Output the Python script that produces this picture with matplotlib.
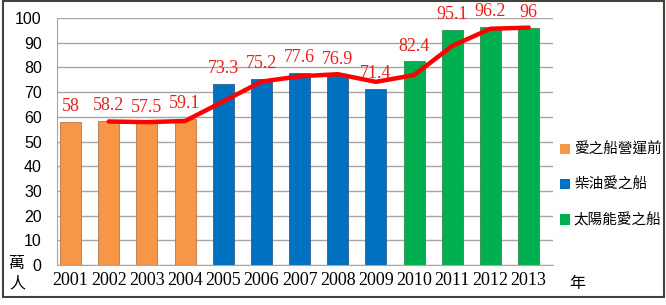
import matplotlib.pyplot as plt
from matplotlib.patches import Patch, Rectangle

plt.rcParams['font.family'] = ['Noto Sans CJK TC', 'DejaVu Sans']

# data
years = ['2001', '2002', '2003', '2004', '2005', '2006', '2007',
         '2008', '2009', '2010', '2011', '2012', '2013']
visitors = [58, 58.2, 57.5, 59.1, 73.3, 75.2, 77.6, 76.9, 71.4, 82.4, 95.1, 96.2, 96]
groups = [0, 0, 0, 0, 1, 1, 1, 1, 1, 2, 2, 2, 2]
group_names = ['愛之船營運前', '柴油愛之船', '太陽能愛之船']
# trend line (2 period moving average)
trend = [58.1, 57.85, 58.3, 66.2, 74.25, 76.4, 77.25, 74.15, 76.9, 88.75, 95.65, 96.1]

colors = ['#F79646', '#0070C0', '#00B050']
edges = ['#B0794A', '#2F5E8C', '#2E8B4E']

fig = plt.figure(figsize=(6.66, 3.05), dpi=100)
ax = fig.add_axes([0.0856, 0.131, 0.7444, 0.810])

x = list(range(len(years)))
bar_colors = [colors[g] for g in groups]
bar_edges = [edges[g] for g in groups]
ax.bar(x, visitors, width=0.55, color=bar_colors, edgecolor=bar_edges, linewidth=0.6, zorder=2)

ax.plot(x[1:], trend, '-', color='#FF0000', linewidth=3.2, zorder=3, solid_capstyle='round')

for i, v in enumerate(visitors):
    ax.annotate(f'{v:g}', (i, v), xytext=(0, 5), textcoords='offset points',
                ha='center', va='bottom', color='#E8201C', fontsize=13,
                family='Liberation Serif', zorder=4)

ax.set_ylim(0, 100)
ax.set_yticks(range(0, 101, 10))
ax.set_xlim(-0.353, 12.63)
ax.set_xticks(x)
ax.set_xticklabels(years, family='Liberation Serif', fontsize=13)
for lab in ax.get_yticklabels():
    lab.set_family('Liberation Sans')
    lab.set_fontsize(11.5)
ax.tick_params(length=0)
ax.tick_params(axis='y', pad=11)
ax.tick_params(axis='x', pad=5)

ax.grid(axis='y', color='#A6A6A6', linewidth=1, zorder=0)
ax.set_axisbelow(True)
for s in ['top', 'right']:
    ax.spines[s].set_visible(False)
ax.spines['left'].set_color('#A6A6A6')
ax.spines['bottom'].set_color('#A6A6A6')

handles = [Patch(facecolor=c, edgecolor='none') for c in colors]
fig.legend(handles, group_names, loc='center left', bbox_to_anchor=(0.830, 0.393),
           frameon=False, fontsize=10.5, handlelength=0.7, handleheight=0.7,
           handletextpad=0.25, labelspacing=1.45, borderpad=0)

fig.text(0.026, 0.135, '萬', fontsize=11.5, ha='center', va='center')
fig.text(0.026, 0.072, '人', fontsize=11.5, ha='center', va='center')
fig.text(0.866, 0.072, '年', fontsize=11.5, ha='center', va='center')

# frame round the chart
fig.add_artist(Rectangle((0.0045, 0.026), 0.9925, 0.970, transform=fig.transFigure,
                         fill=False, edgecolor='#3F453C', linewidth=1.5))

fig.savefig('out.png', dpi=100)
